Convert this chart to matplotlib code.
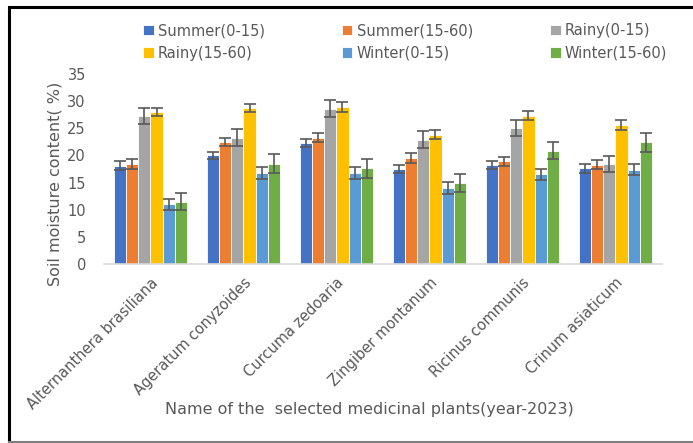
import numpy as np
import matplotlib.pyplot as plt
from matplotlib.lines import Line2D

# Soil moisture (%) by season and depth for each plant
plants = ['Alternanthera brasiliana', 'Ageratum conyzoides', 'Curcuma zedoaria',
          'Zingiber montanum', 'Ricinus communis', 'Crinum asiaticum']
series = ['Summer(0-15)', 'Summer(15-60)', 'Rainy(0-15)',
          'Rainy(15-60)', 'Winter(0-15)', 'Winter(15-60)']

summer_0_15 = [18.1, 20.0, 22.3, 17.5, 18.3, 17.6]
summer_15_60 = [18.4, 22.5, 23.3, 19.5, 18.9, 18.3]
rainy_0_15 = [27.3, 23.3, 28.6, 22.9, 25.1, 18.4]
rainy_15_60 = [28.0, 28.7, 28.9, 23.8, 27.3, 25.6]
winter_0_15 = [11.0, 16.8, 16.8, 14.0, 16.5, 17.4]
winter_15_60 = [11.5, 18.5, 17.6, 14.9, 20.9, 22.4]

summer_0_15_err = [0.8, 0.7, 0.7, 0.75, 0.75, 0.75]
summer_15_60_err = [0.95, 0.8, 0.85, 0.9, 0.8, 0.85]
rainy_0_15_err = [1.5, 1.6, 1.6, 1.6, 1.5, 1.5]
rainy_15_60_err = [0.75, 0.7, 0.9, 0.8, 0.85, 0.85]
winter_0_15_err = [1.0, 1.1, 1.15, 1.1, 0.95, 1.0]
winter_15_60_err = [1.6, 1.7, 1.7, 1.7, 1.55, 1.7]

values = [summer_0_15, summer_15_60, rainy_0_15, rainy_15_60, winter_0_15, winter_15_60]
errors = [summer_0_15_err, summer_15_60_err, rainy_0_15_err,
          rainy_15_60_err, winter_0_15_err, winter_15_60_err]
colors = ['#4472C4', '#ED7D31', '#A5A5A5', '#FFC000', '#5B9BD5', '#70AD47']

text_color = '#595959'

fig = plt.figure(figsize=(6.93, 4.43), dpi=100)
ax = fig.add_axes([0.150, 0.404, 0.805, 0.429])

x = np.arange(len(plants))
width = 0.131
bars = []
for i, (vals, errs) in enumerate(zip(values, errors)):
    pos = x + (i - 2.5) * width
    b = ax.bar(pos, vals, width, color=colors[i], edgecolor='white', linewidth=0.6,
               label=series[i], zorder=2)
    bars.append(b)
    ax.errorbar(pos, vals, yerr=errs, fmt='none', ecolor='#595959',
                elinewidth=1.2, capsize=4, capthick=1.2, zorder=3)

ax.set_xlim(-0.5, len(plants) - 0.5)
ax.set_ylim(0, 35)
ax.set_yticks(np.arange(0, 36, 5))
ax.set_xticks(x)
ax.set_xticklabels(plants, rotation=45, ha='right', va='top', rotation_mode='anchor')

for side in ['top', 'right', 'left']:
    ax.spines[side].set_visible(False)
ax.spines['bottom'].set_color('#D9D9D9')
ax.spines['bottom'].set_linewidth(1.2)
ax.tick_params(axis='both', length=0, colors=text_color, labelsize=10.5)
ax.tick_params(axis='y', pad=13)
ax.tick_params(axis='x', pad=8)

ax.set_ylabel('Soil moisture content( %)', color=text_color, fontsize=11.5)
ax.yaxis.set_label_coords(-0.075, 0.42)
ax.set_xlabel('Name of the  selected medicinal plants(year-2023)', color=text_color,
              fontsize=11.5)
ax.xaxis.set_label_coords(0.475, -0.725)

# legend laid out row by row, three entries per row
order = [0, 3, 1, 4, 2, 5]
fig.legend([bars[k] for k in order], [series[k] for k in order], ncol=3,
           loc='upper left', bbox_to_anchor=(136 / 693, 1 - 16 / 443), frameon=False,
           borderpad=0, fontsize=10.5, labelcolor=text_color, handlelength=0.7,
           handleheight=0.7, handletextpad=0.3, columnspacing=5.3, labelspacing=0.5)

# frame around the chart area: dark on the left and top, light at the bottom
left, top, bottom = 9 / 693, 1 - 6.5 / 443, 1.5 / 443
fig.lines.append(Line2D([left, left, 1.0], [bottom, top, top], transform=fig.transFigure,
                        color='black', linewidth=2.2, solid_joinstyle='miter'))
fig.lines.append(Line2D([left, 1.0], [bottom, bottom], transform=fig.transFigure,
                        color='#7F7F7F', linewidth=1.5))

fig.savefig('out.png', dpi=100)
